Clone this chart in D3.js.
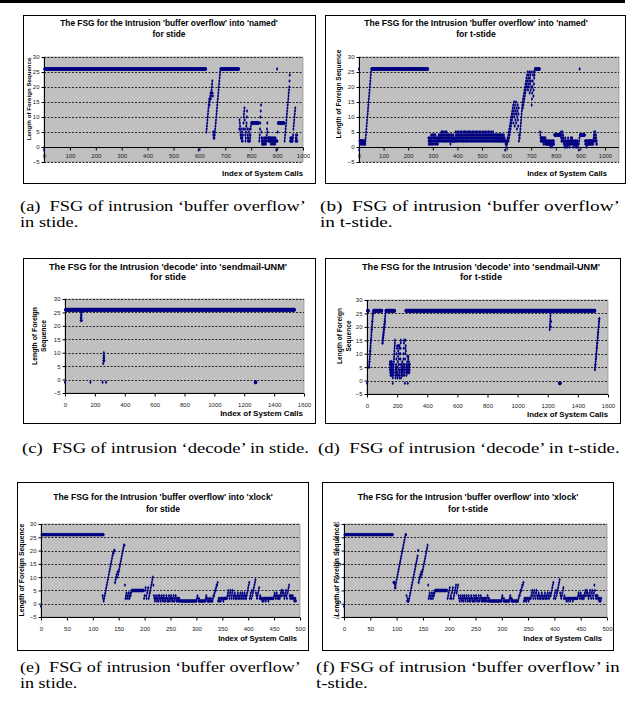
<!DOCTYPE html>
<html><head><meta charset="utf-8">
<script src="https://cdn.jsdelivr.net/npm/d3@7"></script>
<style>body{margin:0;background:#fff}</style>
</head><body>
<svg id="c" width="629" height="713"></svg>
<script>
// ---------------- DATA ----------------
const yTicks = [-5, 0, 5, 10, 15, 20, 25, 30];
const xTicksNamed = [0, 100, 200, 300, 400, 500, 600, 700, 800, 900, 1000];
const xTicksSendmail = [0, 200, 400, 600, 800, 1000, 1200, 1400, 1600];
const xTicksXlock = [0, 50, 100, 150, 200, 250, 300, 350, 400, 450, 500];

const chartTitles = [
  "The FSG for the Intrusion 'buffer overflow' into 'named'",
  "The FSG for the Intrusion 'buffer overflow' into 'named'",
  "The FSG for the Intrusion 'decode' into 'sendmail-UNM'",
  "The FSG for the Intrusion 'decode' into 'sendmail-UNM'",
  "The FSG for the Intrusion 'buffer overflow' into 'xlock'",
  "The FSG for the Intrusion 'buffer overflow' into 'xlock'"
];
const chartSubtitles = ["for stide", "for t-stide", "for stide", "for t-stide", "for stide", "for t-stide"];
const xAxisTitle = "Index of System Calls";
const yAxisTitle = "Length of Foreign Sequence";
const yAxisTitleTwoLines = ["Length of Foreign", "Sequence"];
const captions = [
  ["(a)  FSG of intrusion \u2018buffer overflow\u2019", "in stide."],
  ["(b)  FSG of intrusion \u2018buffer overflow\u2019", "in t-stide."],
  ["(c)  FSG of intrusion \u2018decode\u2019 in stide."],
  ["(d)  FSG of intrusion \u2018decode\u2019 in t-stide."],
  ["(e)  FSG of intrusion \u2018buffer overflow\u2019", "in stide."],
  ["(f) FSG of intrusion \u2018buffer overflow\u2019 in", "t-stide."]
];

// FSG values per system-call index. Tokens: value, value x count (repeat), @index (jump to index)
const fsgNamedStide = `-1 26x596 -1 26x29
5 6 7 8 9 10 11 12 13 14 15 16 14 15 16 17 18 16 17 18 19 20 21 22 18 17
5 4 3 4 5
3 4 5 6 7 8 9 10 11 12 13 14 15 16 17 18 19 20 21 22 23 24 25 26
26x72
6 9 8 7 5 4 3 6 4 3 2 5 3 2 4 6 8 10 11 12 13 9 6 4 2 3 5 7 8 10 12 6 4 3 2 2 3 5 6 4 2 2 3 4 6 7 8
8x30
2 3 4 6 8 10 12 14 5 3 2
1 2 1 3 1 2 1 2 1 3 2 1 2 3 2 1 2 3 4 6 8 5 3 2 3 2 3 2 3 2 3 2 3 2 1 2 3 2 1 2 3 2 1 2 3 2 1 2 3 2 1 2 3 2 2
-1 2 2 26 2 5
8x26
2 3 4 5 6 7 8 9 10 11 12 13 14 15 16 17 18 19 20 22 24
2 3 2 2 3 2 3 2 2 3 2
3 4 6 7 8 9 10 11 12 13
2 3 4 2 3 2 4 2`;

const fsgNamedTstide = `26 -1
2 2 1 2 2 2 1 2 2 1 2 2 2 1 2 2 1 1 2 2 1 2 1
1 2 3 4 5 6 7 8 9 10 11 12 13 14 15 16 17 18 19 20 21 22 23 24 25 26 26 26 26
26x228
3 2 1 3 2 1 2 3 1 2 3 4 2 1 3 2 4 1 2 3 4 3 1 2 4 3 2 1 3 4 2 1 3 2 1 3 2 3 1 2
3 2 4 3 2 3 4 2 3 4 3 2 4 5 3 2 4 3 5 2 4 3 2 5 4 3 2 4 3 5 2 3 4 2 5 3 4 2 3 4
3 2 4 3 2 4 3 2 4 3 1 2 3 4 2 3 4 2 3 2 3 2 4 2 3 2 2 3 2 2 3 5 4 2 3 4 2 5 3 4
2 3 4 5 2 3 4 2 3 4 5 3 2 4 3 5 2 4 3 2 4 3 5 2 3 4 2 5 3 4 2 3 5 4 2 3 4 5 2 3
4 2 5 3 4 2 3 5 4 2 3 4 2 5 3 4 2 3 4 5 2 3 4 2 5 3 4 2 3 4 5 2 3 4 2 5 3 4 2 3
4 5 2 3 4 2 3 5 4 2 3 4 2 5 3 4 2 3 4 2 5 3 4 2 3 4 5 2 3 4 2 3 5 4 2 3 4 2 5 3
4 2 3 4 5 2 3 4 2 3 5 4 2 3 4 2 3 5 4 2 3 4 2 5 3 4 2 3 4 2 3 4 2 3 4 2 3 4 2 3
4 2 3 4 2 3 4 2 3 4 2 3 4 2 3 4 2 3 2 4 3 2 4 3 2 3 2 4 3 2 3 2 -1 2 1 2 1 0 1 2
1 2 3
2 3 4 2 5 3 6 4 7 5 8 6 9 7 10 8 11 9 12 10 13 11 14 8 12 15 10 13 7 11 14 9 12 15 8 11 13 6 10 12 14 9 7 11 13 2 4 3
3 4 5 6 7 8 9 10 11 12 13 14 15 13 16 14 17 15 18 16 19 17 20 18 21 19 22 20 23 21 24 20 22 25 19 23 21 24 20 22
25 18 23 21 24 19 22 25 20 14 16 18 20 22 24 25 17 19 21 23 24 25 26 26
26x19
5 4 3 2 3 2 3 3 2 3 2 3 2 3 1 2 3 2 3 2 1 2 3 2 1 2 1 2 1 2 1
1 2 1 1 2 1 2 1 1 2 1 0 1 2 1 1 2 1 0 1 2 1 1 2 1 2 1
4x27
5 3 2 4 2 3 5 2 3 4 2 3
1 2 1 0 1 2 3 1 0 1 2 1 1 0 1 2 1 3 1 1 2 1 0 1 2 1 1 2 3 2 1 2 3 3 2 1 2 1 0 1 2 1 2 1 1 0 1 2 1 2 1 0 1 2 1 2 1 0 1 1
1 -1 2 3 26
4x21
2 1 2 1 1 2 0 1 2 1 2 1 1 2 1 2 2 1 2 1 2 2 1 2 1 2 1 2 2 1 2 1 2 1
2 3 4 5 3 2 4 5 3 2 4 3 1 2 1`;

const fsgSendmailStide = `-1 26x1539
@105 22 23 24 25 26 23 24 25 22
@170 -1
@252 -1
@256 6 7 8 9 10 9 8 7
@275 -1
@1270 -1x12`;

const fsgSendmailTstide = `-1 26x12
@13 5 5 6 7 7 8 9 10 11 11 12 13 14 15 15 16 17 18 19 19 20 21 22 22 23 24 25 25 26 26 26 26
26x57
14 15 14 16 15 17 16 18 17 19 18 20 19 21 20 22 21 23 22 24 25 26 26
@125 26x62
@151 6 4 7 3 5 2 6 4 7 5 3 6 2 4 7 5 3 6 4 2 -1
1 2 3 4 5 6 7 8 9 10 11 12 13 14 15 3 2 4 1 5 2 6 3 8 4 10 5 12 13 2
1 3 5 7 9 11 13 2 4 6 8 10 12 13 3 1 2 4 6 8 10 12 14 15 1 3 5 2 4 6
3 5 7 2 4 3 5 2 4 6 8 10 12 14 15 3 5 2 4 6 -1 8 10 12 15 13 11 4 3 5
2 4 6 3 5 7 9 3 5 -1 4 6 8 9 3 5 7 4 6 3 5 4 6
@255 26x1262
@1213 19 20 21 22 23 24 25 26 20 22
@1275 -1x12
@1513 4 5 5 6 6 7 8 8 9 10 10 11 12 12 13 14 14 15 16 16 17 18 18 19 20 20 21 22 22 23 23`;

const fsgXlockStide = `-1 26x121
@119 3 2 1 2 3 4 5 6 7 8 9 10 11 12 13 14 15 16 17 18 19 19 20 20
8 9 10 11 10 12 11 12 13 14 15 16 17 18 19 20 21 22 22
7 2 3 4 2 3 2 4 3 2 4 3 4 5
5x23
2 3 5 6 3 2 4 5 6
2 3 4 5 6 7 8 9 10 7
3 2 1 2 3 2 1 2 3 1 2 3 2 1 2 3 2 1 2 3 1 2 1 2 3 2 1 2 1 3 2 1 2 3 2 1 2 1 3 2 1 2 3 2 1 2 1 2 1 2 1
1x32
2 3 2 1 2 1
1x11
2 3 2 1 2
1 1 2 1 1 2 1 1
1 2 3 3 4 5 5 6 7 7 8
1 2 1 2 2 1 2 2 2 2 1 2 2 2 2 2 2
2 3 4 5 3 2 4 5 3 2 4 5 3
2 3 4 2 3 2 2 3 4 2 3 2 3 4 2 3 2 4 3 2 3 4 2 3 2
3 4 5 6 7 8
2 3 4 2 5 3 4 5 6 7 8 9 4 3
2 3 4 5 6 2 3 2 2
2 1 2 2 1 2 2 2 1 2 2 2 2 1 2 2 2 2 2 2 2 2 2
2 3 4 3 2 3 4 2 3 2 2 3
2 3 4 5 3 4 5 4 3 2 3 4 5 3 2 4 5 6 7 3 2
3 2 3 2 3 2 2 1 2 2 1`;

const fsgXlockTstide = `-1 26x93
@94 8 8 8 7 6
@97 6 7 8 9 10 11 12 13 14 15 16 17 18 19 20 21 22 23 24 25 26 26
3 1 2 1
1 2 3 4 5 6 7 8 9 10 11 12 13 14 15 16 17 18 20
8 9 10 11 10 12 11 12 13 14 15 16 17 18 19 20 21 22
7 2 3 4 2 3 2 4 3 2 4 3 4
5x24
2 3 4 5 6 2 3 2 4 5 6 2 3 4 5 6 7 4 5 6 7
3 2 1 2 3 2 1 2 3 1 2 3 2 1 2 3 2 1 2 3 1 2 1 2 3 2 1 2 1 3 2 1 2 3 2 1 2 1 3 2 1 2 3 2 1 2 1 2 1 2 1 2 1 2 1 3 2 1 2 1
1x22
2 3 2 1 2
1x10
2 3 2 1 2 1
1x11
2 3 3 4 5 5 6 7 7 8
1 2 1 2 2 1 2 2 2 1 2 2 2
2 3 4 5 3 2 4 5 3 2 4 5 3 2 3 4 2 3 2
2 3 4 2 3 2 2 3 4 2 3 2 3 4 2 3 2 4 3
3 4 5 6 7 8
2 3 4 2 5 3 4 5 6 7 8 9 4 3
2 3 4 5 6 2 3 2 2
2 1 2 2 1 2 2 2 1 2 2 2 2 1 2 2 2 2 2 2 2 2
2 3 4 3 2 3 4 2 3 2 2 3 2 3 4 5 3 4 5 4 3 2 3 4 5 3 2 4 5 3 2 4
7 5 3 2 3 2 3 2 2 1 2 2 1 2`;

// ---------------- RENDER ----------------
function parseSeq(str) {
  const pts = []; let i = 0;
  str.trim().split(/\s+/).forEach(tok => {
    if (tok[0] === '@') { i = +tok.slice(1); return; }
    const m = tok.split('x');
    const v = +m[0], n = m.length > 1 ? +m[1] : 1;
    for (let k = 0; k < n; k++) { pts.push([i, v]); i++; }
  });
  return pts;
}

const SANS = "'Liberation Sans', Arial, Helvetica, sans-serif";
const SERIF = "'Liberation Serif', 'Times New Roman', serif";
const svg = d3.select('#c');
svg.append('rect').attr('x', 0).attr('y', 0).attr('width', 625).attr('height', 3).attr('fill', '#000');

const panels = [
  {seq: fsgNamedStide, xTicks: xTicksNamed, xMax: 1000, box: [23, 15, 315, 183], px: [44, 303], pr: 303, py: [57, 162],
   zeroAxis: true, tcx: 169, tby: [26, 37], tw: 218, xt: [303, 176, 81], yt: {x: 29, cy: 99, len: 83, two: false}, lblDy: 9,
   cap: captions[0], capX: [20, 306], capY: 211},
  {seq: fsgNamedTstide, xTicks: xTicksNamed, xMax: 1000, box: [325, 15, 625, 183], px: [359, 605], pr: 619, py: [57, 162],
   zeroAxis: true, tcx: 476, tby: [26, 37], tw: 224, xt: [607, 176, 80], yt: {x: 339, cy: 94, len: 89, two: false}, lblDy: 9,
   cap: captions[1], capX: [320, 620], capY: 211},
  {seq: fsgSendmailStide, xTicks: xTicksSendmail, xMax: 1600, box: [23, 258, 315, 423], px: [65, 304], pr: 304, py: [299, 393],
   zeroAxis: false, tcx: 168, tby: [270, 280], tw: 238, xt: [303, 416, 83], yt: {x: 35, x2: 44, cy: 336, len: 58, two: true}, lblDy: 12,
   cap: captions[2], capX: [22, 309], capY: 453},
  {seq: fsgSendmailTstide, xTicks: xTicksSendmail, xMax: 1600, box: [325, 258, 620, 423], px: [367, 608], pr: 608, py: [300, 394],
   zeroAxis: false, tcx: 481, tby: [270, 280], tw: 238, xt: [608, 417, 81], yt: {x: 340, x2: 349, cy: 336, len: 56, two: true}, lblDy: 12,
   cap: captions[3], capX: [318, 620], capY: 453},
  {seq: fsgXlockStide, xTicks: xTicksXlock, xMax: 500, box: [17, 482, 308, 650], px: [41, 300], pr: 300, py: [524, 617],
   zeroAxis: false, tcx: 163, tby: [500, 512], tw: 220, xt: [297, 641, 79], yt: {x: 22, cy: 570, len: 93, two: false}, lblDy: 12,
   cap: captions[4], capX: [20, 301], capY: 672},
  {seq: fsgXlockTstide, xTicks: xTicksXlock, xMax: 500, box: [322, 482, 613, 650], px: [344, 607], pr: 607, py: [524, 617],
   zeroAxis: false, tcx: 468, tby: [500, 512], tw: 221, xt: [602, 641, 79], yt: {x: 337, cy: 570, len: 93, two: false}, lblDy: 12,
   cap: captions[5], capX: [316, 620], capY: 672}
];

function fit(sel, target) {
  const w = sel.node().getComputedTextLength();
  const fs = parseFloat(sel.attr('font-size')) * target / w;
  sel.attr('font-size', fs);
  return fs;
}

const sym = d3.symbol(d3.symbolDiamond, 4.5)();

panels.forEach((p, idx) => {
  const g = svg.append('g');
  const [bx0, by0, bx1, by1] = p.box;
  const x = d3.scaleLinear().domain([0, p.xMax]).range(p.px);
  const y = d3.scaleLinear().domain([-5, 30]).range([p.py[1], p.py[0]]);
  // chart box
  g.append('rect').attr('x', bx0 + 0.5).attr('y', by0 + 0.5).attr('width', bx1 - bx0).attr('height', by1 - by0)
    .attr('fill', '#fff').attr('stroke', '#000').attr('stroke-width', 1);
  // plot area
  g.append('rect').attr('x', p.px[0]).attr('y', p.py[0]).attr('width', p.pr - p.px[0]).attr('height', p.py[1] - p.py[0])
    .attr('fill', '#c0c0c0').attr('stroke', '#808080').attr('stroke-width', 0.6);
  // gridlines
  g.selectAll('line.grid').data(yTicks.filter(t => !(t === -5 && !p.zeroAxis))).join('line')
    .attr('x1', p.px[0]).attr('x2', p.pr).attr('y1', d => Math.round(y(d)) + 0.5).attr('y2', d => Math.round(y(d)) + 0.5)
    .attr('stroke', '#000').attr('stroke-width', 0.8).attr('stroke-dasharray', '2,1.5');
  // y axis
  const yAxis = d3.axisLeft(y).tickValues(yTicks).tickSize(3).tickPadding(2).tickFormat(d3.format('d'));
  const ya = g.append('g').attr('transform', `translate(${p.px[0] + 0.5},0)`).call(yAxis);
  ya.selectAll('text').attr('font-family', SANS).attr('font-size', 6).attr('fill', '#222');
  ya.selectAll('line').attr('stroke', '#000');
  ya.select('.domain').attr('stroke', '#000').attr('d', `M0,${p.py[0]}V${p.py[1]}`);
  // x axis
  const axisY = p.zeroAxis ? Math.round(y(0)) + 0.5 : p.py[1] + 0.5;
  const xAxis = d3.axisBottom(x).tickValues(p.xTicks).tickSize(3).tickPadding(p.lblDy - 6).tickFormat(d3.format('d'));
  const xa = g.append('g').attr('transform', `translate(0,${axisY})`).call(xAxis);
  xa.selectAll('text').attr('font-family', SANS).attr('font-size', 6).attr('fill', '#222');
  xa.selectAll('line').attr('stroke', '#000');
  xa.select('.domain').attr('stroke', '#000').attr('d', `M${p.px[0]},0H${p.pr}`);
  // points
  const data = parseSeq(p.seq);
  g.append('g').selectAll('path').data(data).join('path')
    .attr('transform', d => `translate(${x(d[0]).toFixed(2)},${y(d[1]).toFixed(2)})`)
    .attr('d', sym).attr('fill', '#000080');
  // titles
  const t1 = g.append('text').attr('x', p.tcx).attr('y', p.tby[0]).attr('text-anchor', 'middle')
    .attr('font-family', SANS).attr('font-weight', 'bold').attr('font-size', 8).text(chartTitles[idx]);
  const fs = fit(t1, p.tw);
  g.append('text').attr('x', p.tcx).attr('y', p.tby[1]).attr('text-anchor', 'middle')
    .attr('font-family', SANS).attr('font-weight', 'bold').attr('font-size', fs).text(chartSubtitles[idx]);
  // x title
  const xt = g.append('text').attr('x', p.xt[0]).attr('y', p.xt[1]).attr('text-anchor', 'end')
    .attr('font-family', SANS).attr('font-weight', 'bold').attr('font-size', 8).text(xAxisTitle);
  fit(xt, p.xt[2]);
  // y title
  if (p.yt.two) {
    const l1 = g.append('text').attr('transform', `translate(${p.yt.x},${p.yt.cy}) rotate(-90)`).attr('dy', '0.35em')
      .attr('text-anchor', 'middle').attr('font-family', SANS).attr('font-weight', 'bold').attr('font-size', 7)
      .text(yAxisTitleTwoLines[0]);
    const f2 = fit(l1, p.yt.len);
    g.append('text').attr('transform', `translate(${p.yt.x2},${p.yt.cy}) rotate(-90)`).attr('dy', '0.35em')
      .attr('text-anchor', 'middle').attr('font-family', SANS).attr('font-weight', 'bold').attr('font-size', f2)
      .text(yAxisTitleTwoLines[1]);
  } else {
    const l1 = g.append('text').attr('transform', `translate(${p.yt.x},${p.yt.cy}) rotate(-90)`).attr('dy', '0.35em')
      .attr('text-anchor', 'middle').attr('font-family', SANS).attr('font-weight', 'bold').attr('font-size', 7)
      .text(yAxisTitle);
    fit(l1, p.yt.len);
  }
  // caption: horizontally scaled Times-like text, first line fills the column width
  const capFs = 15;
  const cg = svg.append('g').attr('font-family', SERIF).attr('font-size', capFs).attr('fill', '#000');
  const tmp = cg.append('text').style('white-space', 'pre').text(p.cap[0]);
  const natural = tmp.node().getComputedTextLength();
  tmp.remove();
  const sx = (p.capX[1] - p.capX[0]) / natural;
  cg.attr('transform', `translate(${p.capX[0]},0) scale(${sx.toFixed(4)},1)`);
  p.cap.forEach((line, li) => {
    cg.append('text').attr('x', 0).attr('y', p.capY + li * 16)
      .style('white-space', 'pre').text(line);
  });
});
</script>
</body></html>
